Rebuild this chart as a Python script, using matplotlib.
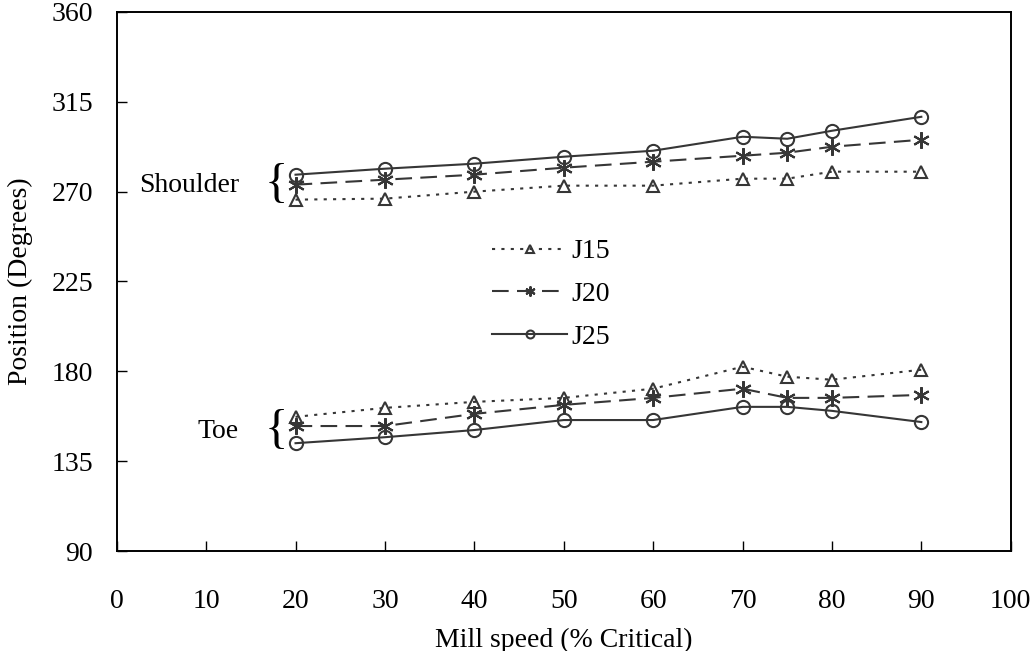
import numpy as np
import matplotlib
matplotlib.use("Agg")
import matplotlib.pyplot as plt

plt.rcParams['font.family'] = ['Liberation Serif', 'DejaVu Serif']

speed = [20, 30, 40, 50, 60, 70, 75, 80, 90]

# shoulder positions (degrees)
j15_shoulder = [266, 266.5, 270, 273, 273, 276.5, 276.5, 280, 280]
j20_shoulder = [273.5, 276, 278.5, 282, 285, 288, 289.5, 292.5, 296]
j25_shoulder = [278.5, 281.5, 284, 287.5, 290.5, 297.5, 296.5, 300.5, 307.5]

# toe positions (degrees)
j15_toe = [157.2, 161.7, 164.7, 166.7, 171.3, 182.3, 177.3, 175.8, 180.8]
j20_toe = [152.6, 152.6, 158.7, 163.2, 166.7, 171.3, 166.7, 166.7, 168.2]
j25_toe = [144, 147, 150.6, 155.6, 155.6, 162.2, 162.2, 160.2, 154.6]

fig = plt.figure(figsize=(10.34, 6.51), dpi=100)
ax = fig.add_axes([0.1129, 0.1536, 0.8646, 0.828])

col = '#363636'
styles = {
    'J15': dict(ls=(0, (1.5, 3)), marker='^', ms=9),
    'J20': dict(ls=(0, (8, 4)), marker=(6, 2, 0), ms=12),
    'J25': dict(ls='-', marker='o', ms=9.5),
}
series = [('J15', j15_shoulder, j15_toe), ('J20', j20_shoulder, j20_toe), ('J25', j25_shoulder, j25_toe)]
for name, sh, toe in series:
    st = styles[name]
    ax.plot(speed, sh, color=col, lw=1.5, ls=st['ls'], marker=st['marker'], ms=st['ms'],
            mfc='none', mec=col, mew=1.5, label=name)
    ax.plot(speed, toe, color=col, lw=1.5, ls=st['ls'], marker=st['marker'], ms=st['ms'],
            mfc='none', mec=col, mew=1.5)

ax.set_xlim(0, 100)
ax.set_ylim(90, 360)
ax.set_xticks(np.arange(0, 101, 10))
ax.set_yticks(np.arange(90, 361, 45))
for s in ax.spines.values():
    s.set_linewidth(1.4)
ax.tick_params(direction='in', length=7.5, width=1, labelsize=20, color='black')
ax.tick_params(axis='x', pad=27)
ax.tick_params(axis='y', pad=17)

ax.set_xlabel('Mill speed (% Critical)', fontsize=20, labelpad=10)
ax.set_ylabel('Position (Degrees)', fontsize=20, labelpad=13)

ax.text(2.5, 273, 'Shoulder', fontsize=20, ha='left', va='center')
ax.text(16.5, 273.5, '{', fontsize=35, ha='left', va='center')
ax.text(9.0, 149.8, 'Toe', fontsize=20, ha='left', va='center')
ax.text(16.5, 150.3, '{', fontsize=35, ha='left', va='center')

leg = ax.legend(loc='center', bbox_to_anchor=(0.486, 0.476), frameon=False, fontsize=20,
                handlelength=2.7, labelspacing=0.62, markerscale=0.6, handletextpad=0.15,
                borderpad=0)

fig.savefig('out.png', dpi=100)
